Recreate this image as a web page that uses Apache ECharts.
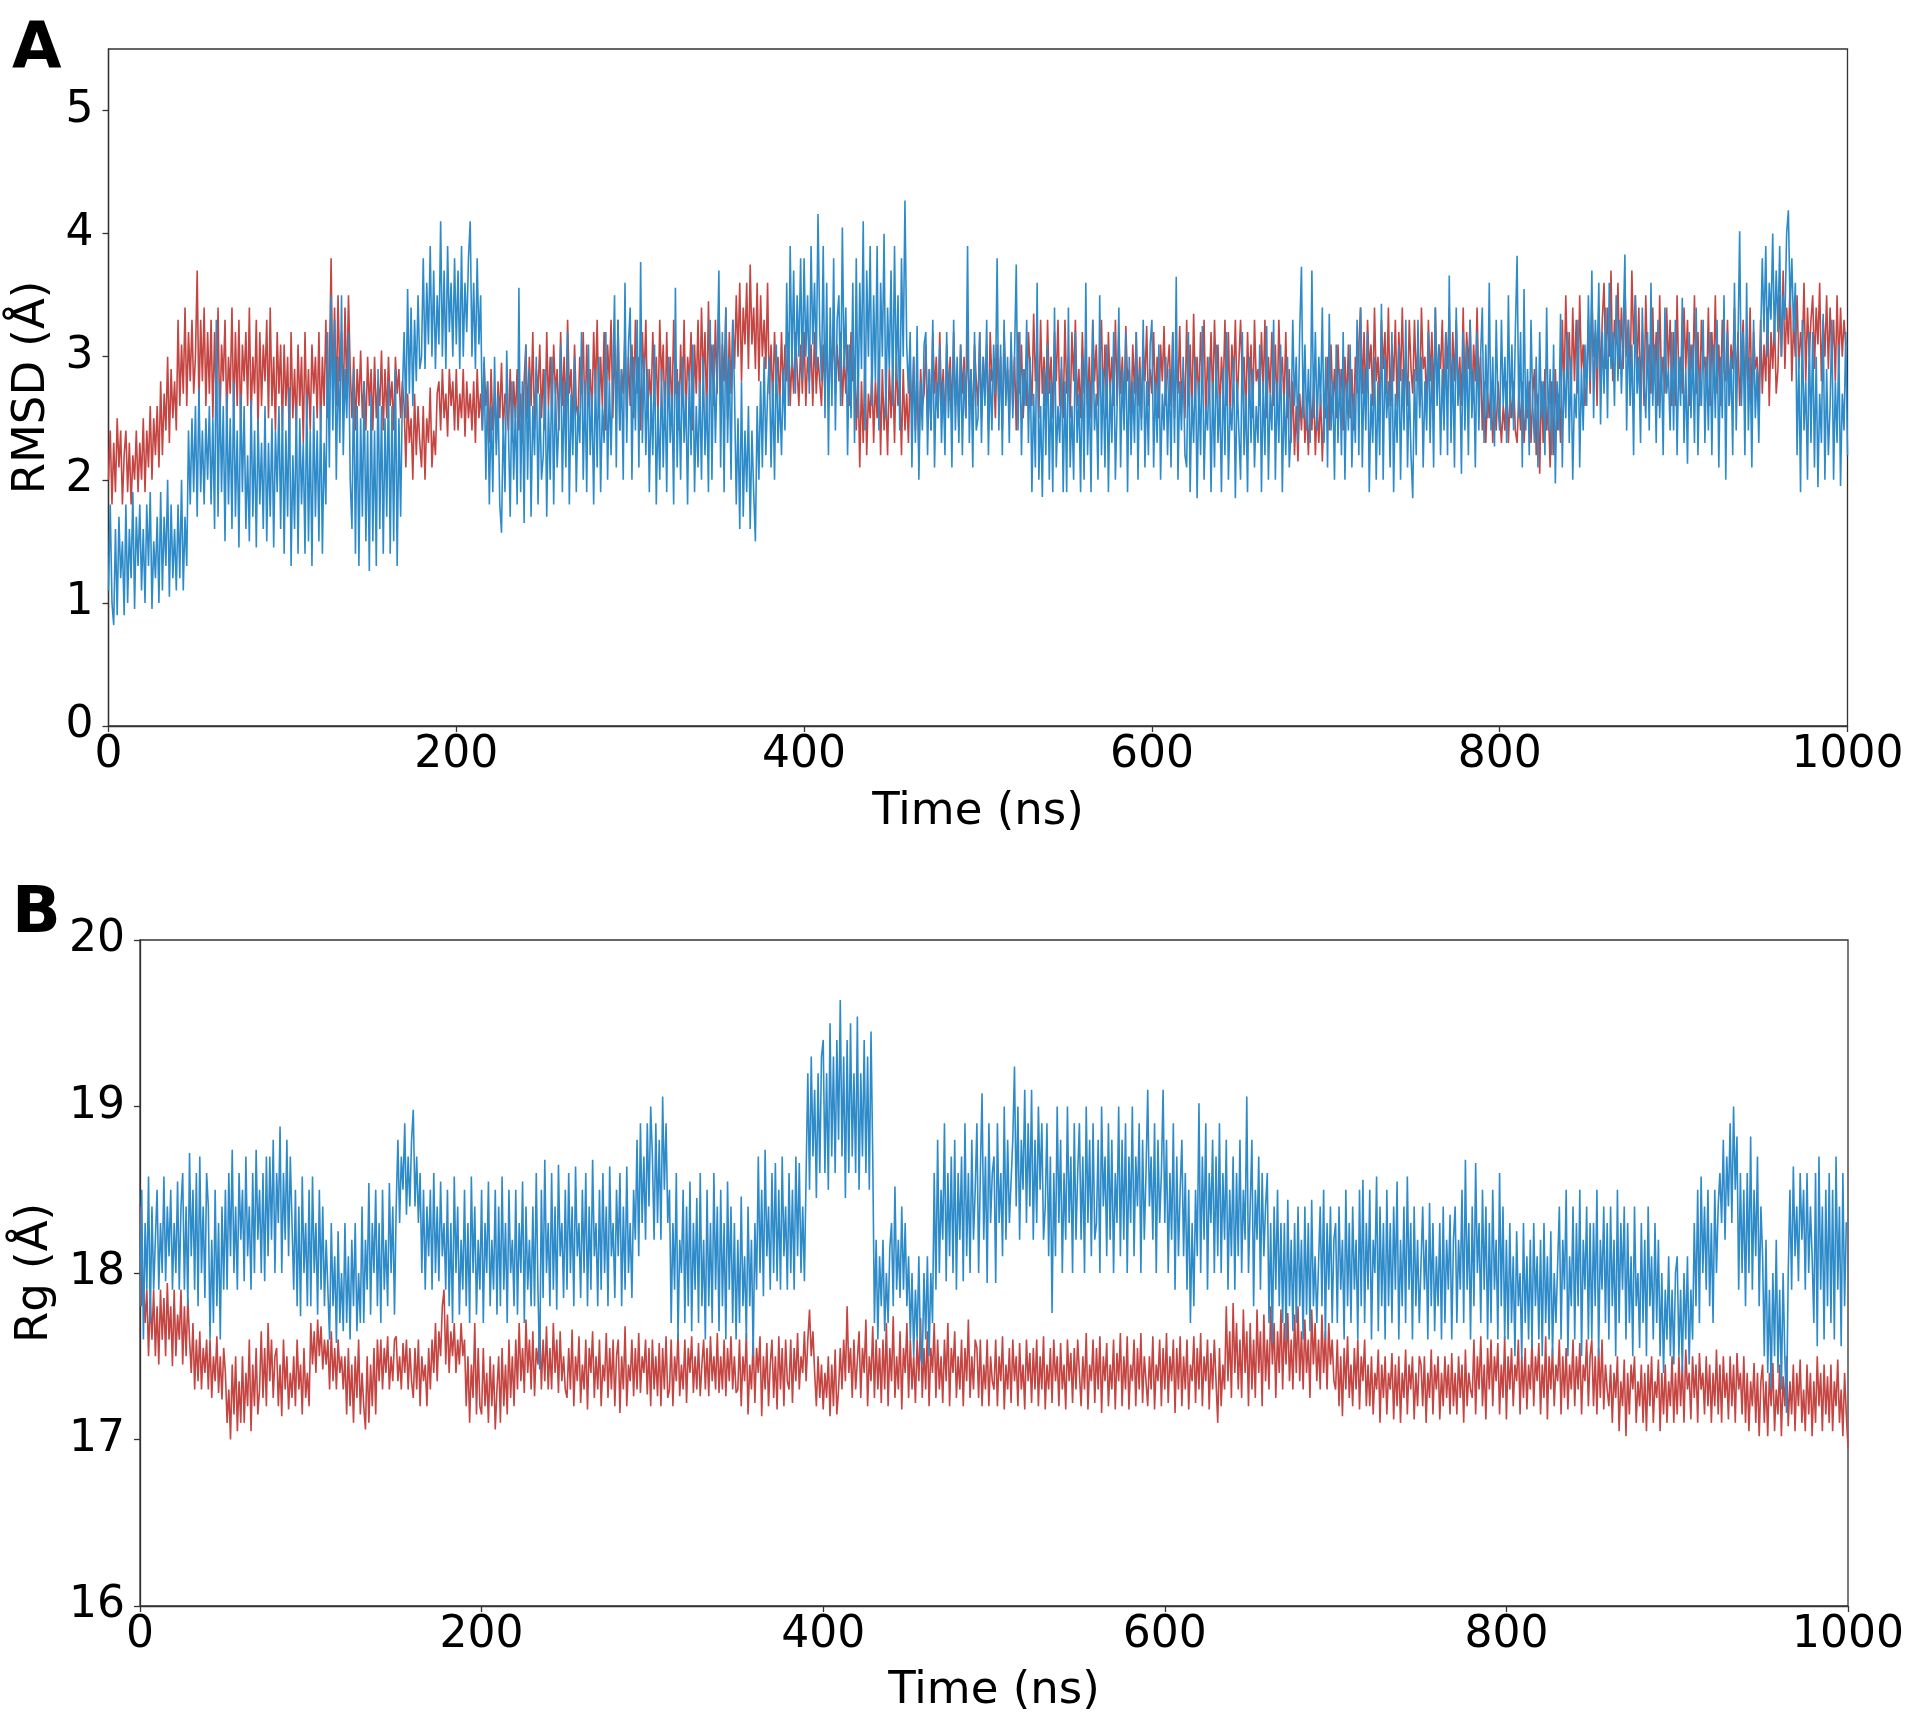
<!DOCTYPE html>
<html><head><meta charset="utf-8">
<script src="https://cdn.jsdelivr.net/npm/echarts@6/dist/echarts.min.js"></script>
<style>html,body{margin:0;padding:0;background:#fff}#chart{width:1920px;height:1717px}</style>
</head><body><div id="chart"></div>
<script>
// sampling interval of the trajectories (ns)
const TIME_STEP = 1;
const xTicks = [0, 200, 400, 600, 800, 1000];
const rmsdTicks = [0, 1, 2, 3, 4, 5];
const rgTicks = [16, 17, 18, 19, 20];

// Panel A: RMSD (Å), red trajectory, one value per ns
const rmsdRed = [
2.0,2.4,1.8,2.3,1.9,2.5,2.1,2.4,1.8,2.2, 2.4,1.9,2.3,1.8,2.2,2.0,2.4,1.9,2.3,2.0, 2.5,1.9,2.4,2.1,2.6,2.0,2.5,2.2,2.6,2.1, 2.8,2.2,2.7,2.4,3.0,2.3,2.9,2.5,2.8,2.4, 3.3,2.6,3.1,2.7,3.4,2.6,3.2,2.8,3.3,2.7,
3.0,3.7,2.6,3.3,2.8,3.4,2.6,3.2,2.7,3.3, 2.5,3.2,2.6,3.4,2.4,3.1,2.8,3.3,2.5,3.0, 2.7,3.4,2.5,3.2,2.6,3.3,2.4,3.1,2.8,3.2, 2.6,3.4,2.5,3.0,2.7,3.3,2.4,3.2,2.6,3.1, 2.8,3.3,2.5,3.4,2.6,3.0,2.4,3.2,2.7,3.1,
2.4,3.1,2.6,3.0,2.3,3.2,2.5,2.9,2.4,3.1, 2.6,3.0,2.3,3.2,2.5,2.9,2.4,3.1,2.7,3.0, 2.5,3.2,2.4,3.0,2.6,3.3,2.5,2.9,3.8,2.7, 3.4,2.6,3.5,2.8,3.2,2.6,3.4,2.7,3.5,2.9, 2.5,3.0,2.4,2.9,2.6,3.05,2.5,2.8,2.4,3.0,
2.6,2.9,2.4,3.0,2.5,2.8,2.6,3.05,2.4,2.9, 2.5,3.0,2.6,2.8,2.4,3.0,2.7,2.9,2.5,2.8, 2.6,2.1,2.7,2.3,2.5,2.0,2.7,2.2,2.6,2.3, 2.1,2.6,2.0,2.5,2.3,2.75,2.1,2.4,2.2,2.7, 2.8,2.4,2.9,2.5,2.7,2.35,2.9,2.6,2.8,2.4,
2.9,2.4,2.7,2.5,2.9,2.35,2.8,2.5,2.7,2.4, 2.8,2.3,2.9,2.5,2.7,2.4,2.95,2.6,2.8,2.3, 2.9,2.4,2.7,2.3,2.8,2.5,2.95,2.4,2.7,2.6, 2.4,2.9,2.3,2.8,2.5,2.9,2.4,2.7,2.3,2.8, 3.1,2.5,3.0,2.6,3.2,2.4,2.9,2.7,3.1,2.5,
2.9,2.4,3.2,2.6,3.0,2.5,3.1,2.7,2.9,2.4, 3.2,2.6,3.0,2.5,3.3,2.7,2.9,2.4,3.1,2.6, 2.5,3.0,2.7,3.2,2.4,3.1,2.6,2.9,2.5,3.2, 2.7,3.3,2.5,3.0,2.6,3.2,2.4,3.1,2.8,3.3, 2.5,3.1,2.6,3.3,2.4,2.9,2.7,3.2,2.5,3.0,
2.6,3.1,2.5,3.3,2.7,3.0,2.4,3.2,2.8,3.3, 2.5,2.9,2.6,3.2,2.7,3.0,2.5,3.3,2.8,3.1, 2.4,3.2,2.6,3.0,2.5,3.3,2.7,2.9,2.4,3.1, 2.6,3.3,2.5,3.0,2.8,3.2,2.4,3.1,2.7,3.3, 2.6,3.4,2.8,3.2,2.5,3.45,2.7,3.1,2.6,3.3,
2.7,3.45,2.6,3.1,2.8,3.4,2.5,3.2,2.7,3.3, 2.9,3.5,3.0,3.6,2.8,3.4,3.1,3.6,2.9,3.75, 3.1,3.4,2.9,3.6,2.8,3.5,3.0,3.3,2.9,3.6, 2.7,3.1,2.6,3.2,2.8,3.0,2.6,3.2,2.7,3.1, 2.8,3.2,2.6,3.0,2.7,3.2,2.9,2.6,3.1,2.7,
3.2,2.6,3.0,2.8,3.1,2.6,3.2,2.7,3.0,2.8, 2.6,3.1,2.7,3.2,2.6,3.0,2.9,3.2,2.7,3.1, 2.8,3.2,2.6,3.0,2.7,3.1,2.6,3.2,2.8,3.0, 2.4,2.9,2.1,2.8,2.3,3.0,2.2,2.7,2.5,2.9, 2.3,2.8,2.5,3.0,2.2,2.9,2.4,2.7,2.2,2.9,
2.5,2.9,2.3,3.0,2.6,2.8,2.2,2.9,2.4,2.7, 2.3,2.9,2.5,3.0,2.4,2.8,2.2,2.9,2.6,2.7, 3.1,2.5,2.9,2.4,3.2,2.7,3.0,2.5,3.2,2.6, 2.9,2.4,3.1,2.7,3.0,2.5,3.2,2.6,2.9,2.4, 3.1,2.7,3.0,2.5,3.2,2.6,2.9,2.4,3.1,2.8,
2.6,3.2,2.5,3.0,2.7,3.1,2.4,3.2,2.8,2.9, 2.5,3.1,2.6,3.0,2.4,3.2,2.7,2.9,2.5,3.1, 2.6,3.0,2.4,3.2,2.7,3.1,2.5,2.9,2.6,3.2, 3.2,2.6,3.35,2.8,3.1,2.5,3.3,2.7,3.0,2.6, 3.3,2.7,3.0,2.5,3.2,2.8,3.3,2.6,2.9,2.5,
3.3,2.7,3.0,2.5,3.2,2.8,3.3,2.6,2.9,2.5, 3.2,2.7,3.1,2.6,3.0,2.5,3.3,2.8,3.1,2.6, 2.9,3.3,2.6,3.1,2.5,3.2,2.7,3.0,2.6,3.3, 2.6,3.2,2.7,3.0,2.5,3.25,2.8,2.9,2.5,3.1, 2.7,3.2,2.6,3.0,2.5,3.1,2.8,3.25,2.6,2.9,
2.7,3.2,2.6,3.0,2.5,3.1,2.8,3.25,2.6,2.9, 3.1,2.6,3.2,2.5,3.0,2.7,3.25,2.6,2.9,2.5, 3.3,2.6,3.1,2.5,3.35,2.7,3.0,2.6,3.2,2.8, 3.3,2.5,3.0,2.7,3.2,2.6,3.3,2.8,3.1,2.5, 3.0,2.7,3.3,2.6,3.2,2.5,3.1,2.8,3.3,2.6,
2.6,3.3,2.8,3.0,2.5,3.2,2.7,3.1,2.5,3.3, 2.8,2.9,2.6,3.2,2.7,3.3,2.5,3.0,2.7,3.2, 2.6,3.1,2.5,3.3,2.8,3.0,2.6,3.2,2.5,2.9, 2.3,2.8,2.2,2.6,2.15,2.7,2.4,2.8,2.3,2.6, 2.2,2.7,2.4,2.8,2.2,2.6,2.3,2.7,2.15,2.6,
2.5,3.0,2.4,3.1,2.6,2.9,2.5,3.1,2.7,2.9, 2.4,3.0,2.6,3.1,2.5,2.9,2.4,3.0,2.7,3.1, 3.4,2.7,3.2,2.6,3.3,2.9,3.1,2.6,3.4,2.8, 3.0,2.6,3.3,2.9,3.2,2.7,3.4,2.6,3.1,2.8, 3.3,2.6,3.2,2.8,3.4,2.7,3.0,2.6,3.3,2.9,
2.7,3.3,2.8,3.1,2.6,3.4,2.9,3.0,2.6,3.3, 2.8,3.2,2.6,3.4,2.7,3.1,2.9,3.3,2.6,3.2, 2.9,3.4,2.6,3.2,2.8,3.3,2.7,3.0,2.6,3.4, 2.7,3.2,2.9,3.3,2.6,3.1,2.8,3.4,2.7,3.0, 2.4,2.8,2.3,2.7,2.5,2.8,2.3,2.6,2.4,2.8,
2.8,2.3,2.6,2.4,2.8,2.3,2.7,2.5,2.8,2.4, 2.3,2.7,2.4,2.8,2.3,2.6,2.5,2.8,2.3,2.7, 2.9,2.2,2.7,2.05,2.8,2.3,2.9,2.4,2.6,2.1, 2.8,2.2,2.9,2.4,2.7,2.3,3.3,2.7,3.5,2.9, 3.2,2.6,3.4,2.8,3.3,2.7,3.5,2.9,3.1,2.6,
2.8,3.3,2.7,3.5,3.0,3.2,2.6,3.4,2.8,3.3, 3.6,2.9,3.4,3.0,3.7,2.8,3.3,3.1,3.6,2.9, 3.4,2.9,3.6,3.0,3.3,2.8,3.7,3.1,3.5,2.9, 3.4,2.7,3.2,2.6,3.5,2.9,3.1,2.7,3.4,2.8, 3.2,2.6,3.5,2.8,3.0,2.7,3.4,2.9,3.3,2.6,
3.2,2.6,3.5,2.8,3.0,2.7,3.4,2.9,3.3,2.6, 3.1,2.8,3.5,2.7,3.2,2.6,3.3,2.9,3.0,2.7, 3.4,2.6,3.2,2.8,3.5,2.7,3.1,2.6,3.3,2.9, 2.8,3.3,2.6,3.1,2.9,3.4,2.7,3.2,2.6,3.0, 3.3,2.7,3.1,2.8,3.4,2.6,3.2,2.9,3.0,2.6,
3.3,2.7,3.1,2.8,3.4,2.6,3.2,2.9,3.3,2.7, 2.9,3.5,3.0,3.7,2.9,3.4,3.1,3.6,2.8,3.3, 3.0,3.5,2.9,3.2,3.0,3.6,2.8,3.4,3.0,3.3, 3.5,2.9,3.4,3.1,3.6,2.8,3.3,3.0,3.5,2.9, 3.4,3.0,3.3,2.8,3.5,2.9,3.4,3.0,3.3,3.1,
3.1];

// Panel A: RMSD (Å), blue trajectory, one value per ns
const rmsdBlue = [
1.1,1.8,1.0,0.82,1.6,0.9,1.7,1.2,1.5,0.9, 1.8,1.0,1.6,1.2,1.9,0.95,1.7,1.3,1.8,1.1, 1.6,1.0,1.8,1.3,1.9,0.95,1.5,1.2,1.7,1.0, 1.9,1.1,1.7,1.3,2.0,1.05,1.8,1.2,1.6,1.1, 1.8,1.2,2.0,1.1,1.7,1.3,2.4,1.8,2.5,1.9,
2.6,1.7,2.75,1.9,2.4,1.8,2.5,2.0,2.6,1.8, 2.5,1.6,3.3,1.7,2.8,1.9,2.6,1.5,2.7,1.8, 2.5,1.6,2.8,1.7,2.4,1.45,2.7,1.9,2.6,1.6, 2.2,1.5,2.65,1.7,2.4,1.45,2.5,1.8,2.3,1.6, 2.6,1.5,2.3,1.7,2.5,1.45,2.4,1.9,2.6,1.6,
2.6,1.4,2.4,1.7,2.75,1.3,2.2,1.6,2.6,1.4, 2.5,1.8,2.3,1.4,2.7,1.5,2.4,1.3,2.6,1.7, 2.4,1.5,2.6,1.4,2.3,1.8,3.2,2.1,3.5,2.4, 3.3,2.0,3.0,2.3,3.5,2.2,2.9,2.5,3.2,2.0, 1.6,2.9,1.4,2.6,1.3,2.5,1.7,2.8,1.5,2.4,
1.26,2.7,1.5,2.4,1.3,2.9,1.6,2.6,1.4,2.5, 1.7,2.8,1.4,2.6,1.5,2.9,1.3,2.5,1.7,2.7, 3.2,2.5,3.55,2.7,3.4,2.6,3.3,2.8,3.5,2.9, 3.0,3.8,2.9,3.6,3.1,3.9,3.0,3.7,2.9,3.5, 3.1,4.1,3.0,3.7,2.9,3.9,3.2,3.6,3.0,3.8,
3.1,3.7,2.9,3.9,3.0,3.6,3.2,3.8,4.1,3.0, 3.6,2.9,3.8,3.1,3.5,2.4,3.0,2.0,2.8,1.8, 2.6,1.9,3.0,2.2,2.7,1.8,1.57,2.5,1.9,3.05, 2.4,1.7,2.8,2.0,2.6,1.8,3.56,1.9,2.8,1.65, 3.1,2.0,2.9,1.7,2.6,2.2,3.0,1.8,2.7,2.0,
2.2,2.9,1.7,2.6,2.0,3.0,1.8,2.8,2.1,2.5, 3.1,1.9,2.8,2.1,3.2,1.8,2.7,2.2,3.0,1.9, 2.6,2.3,3.2,2.0,2.8,1.9,3.1,2.2,2.7,1.8, 2.9,2.1,3.0,1.9,2.6,2.3,3.2,2.0,2.8,2.2, 2.2,3.5,2.1,3.3,2.4,2.9,2.0,3.6,2.3,3.1,
3.4,2.0,3.0,2.4,3.3,2.1,3.77,2.3,3.0,2.2, 2.9,1.9,2.7,2.2,3.1,1.8,2.6,2.0,2.9,2.1, 2.8,1.9,3.0,2.3,2.7,1.8,3.56,2.1,2.8,2.0, 3.0,2.3,2.7,1.8,2.9,2.2,3.1,1.9,2.6,2.1, 2.8,2.0,3.0,2.2,2.7,1.9,3.3,2.0,3.1,2.3,
2.9,3.7,2.1,3.2,1.9,3.4,2.3,3.0,2.0,3.3, 2.7,1.8,2.5,1.6,2.8,1.7,2.4,1.9,2.6,1.6, 2.4,1.9,1.5,2.6,2.0,2.8,2.1,3.0,2.2,2.7, 3.0,2.1,2.8,2.0,3.1,2.3,2.7,2.2,2.9,2.4, 3.6,2.6,3.9,2.9,3.7,2.7,3.5,3.0,3.8,2.8,
3.8,3.0,3.5,2.7,3.9,3.1,3.6,2.9,4.16,3.2, 2.8,3.9,2.5,3.6,2.2,3.4,2.6,3.8,2.4,3.3, 3.5,2.6,4.05,2.9,3.4,2.2,3.1,2.5,3.6,2.3, 3.8,2.5,3.6,2.9,4.1,2.4,3.7,3.0,3.9,2.6, 3.5,2.8,3.9,2.4,3.6,3.0,4.0,2.5,3.4,2.9,
3.7,2.6,3.9,2.8,3.5,2.4,3.8,3.0,4.27,3.1, 2.7,3.2,2.1,3.0,2.3,3.25,2.0,2.8,2.4,3.1, 3.2,2.2,2.9,2.4,3.3,2.1,2.8,2.5,3.1,2.3, 2.8,2.2,3.2,2.5,2.9,2.1,3.3,2.4,3.0,2.3, 3.1,2.2,2.9,2.5,3.9,2.3,2.9,2.1,3.2,2.4,
2.5,3.2,2.3,3.0,2.6,3.3,2.2,2.9,2.4,3.1, 2.7,3.8,2.4,3.1,2.2,3.3,2.6,3.0,2.3,3.2, 2.5,3.0,3.75,2.4,3.2,2.2,2.9,2.6,3.3,2.3, 3.0,1.9,2.7,2.1,3.6,2.0,2.6,1.86,2.9,2.2, 3.1,2.0,2.8,1.9,3.4,2.1,2.6,2.3,3.0,1.9,
2.8,1.9,3.4,2.1,2.6,2.0,3.2,2.3,2.7,1.9, 3.0,2.0,3.6,2.2,2.8,1.9,3.3,2.4,2.7,2.0, 3.5,2.2,2.9,2.1,3.1,1.9,2.8,2.3,3.2,2.0, 2.6,3.4,2.1,2.9,2.4,3.2,1.9,3.0,2.2,2.8, 2.3,3.2,2.0,2.9,2.4,3.3,2.1,2.8,2.2,3.1,
3.3,2.1,2.8,2.3,3.1,2.0,2.7,2.4,3.0,2.2, 2.9,2.1,3.2,2.3,3.65,2.0,2.8,2.4,3.0,2.2, 2.1,3.2,1.9,2.7,2.3,3.0,1.85,2.8,2.2,3.25, 2.0,2.6,2.4,3.0,1.9,2.8,2.1,3.1,2.3,2.7, 1.9,2.9,2.2,3.2,2.0,2.6,2.4,3.0,1.85,2.8,
2.8,2.0,3.2,2.2,2.7,1.9,3.0,2.3,2.9,2.1, 2.6,2.3,3.1,1.9,2.8,2.2,3.25,2.0,2.7,2.4, 3.3,2.0,2.8,2.3,3.1,1.9,2.7,2.2,3.0,2.1, 2.4,3.3,2.6,3.0,2.3,3.2,3.73,2.5,3.1,2.4, 2.9,2.3,3.7,2.5,3.2,2.4,3.0,2.6,3.4,2.3,
3.0,2.1,3.35,2.4,2.8,2.0,3.1,2.3,2.9,2.2, 3.2,2.0,2.8,2.4,3.1,2.1,2.7,2.3,3.3,2.2, 3.4,2.1,2.9,2.4,3.2,1.9,2.7,2.3,3.0,2.0, 2.8,2.2,3.43,2.0,3.0,2.5,2.8,2.1,3.2,1.9, 2.7,2.3,3.1,2.0,2.9,2.4,3.3,2.1,2.8,2.2,
1.85,2.9,2.2,3.3,2.5,3.0,2.1,2.8,2.4,3.2, 2.3,3.0,2.1,3.4,2.6,3.1,2.2,2.9,2.4,3.2, 2.2,3.66,2.3,3.0,2.1,3.4,2.6,2.9,2.05,3.2, 2.4,3.1,2.2,3.3,2.5,2.9,2.1,3.2,2.4,3.0, 3.4,2.3,3.1,2.5,3.6,2.4,3.0,2.27,3.3,2.6,
2.4,3.3,2.6,3.0,2.3,3.5,2.5,3.1,2.4,3.2, 3.82,2.5,3.2,2.1,3.55,2.4,2.9,2.2,3.3,2.6, 2.3,3.0,2.1,3.2,2.5,2.8,2.2,3.4,2.4,2.9, 2.2,3.1,1.97,2.8,2.4,3.35,2.1,2.9,2.5,3.2, 2.3,3.0,2.0,2.7,2.5,3.3,2.1,2.9,2.4,3.1,
2.6,3.5,2.8,3.7,2.5,3.3,2.9,3.6,2.45,3.2, 2.7,3.4,2.5,3.6,2.9,3.2,2.6,3.5,2.8,3.3, 2.7,3.2,3.83,2.4,3.3,2.6,3.1,2.2,3.5,2.7, 3.0,2.3,3.4,2.8,2.5,3.2,2.4,3.6,2.6,3.1, 2.3,3.3,2.5,3.0,2.2,3.4,2.7,2.9,2.4,3.2,
2.4,3.3,2.2,3.0,2.6,3.48,2.3,2.9,2.13,3.2, 2.5,3.1,2.3,3.4,2.2,2.9,2.6,3.3,2.3,3.0, 2.4,3.2,2.2,3.1,2.5,3.3,2.1,3.0,2.5,3.5, 2.0,3.2,2.6,3.0,2.2,3.6,2.4,3.1,4.02,2.6, 3.2,2.2,3.6,2.4,3.0,2.1,3.3,2.5,2.9,2.3,
3.1,3.8,3.2,3.9,3.0,3.6,3.3,4.0,3.1,3.7, 3.2,3.9,3.0,3.5,3.3,4.0,4.19,3.4,3.8,3.2, 3.6,2.2,3.0,1.9,3.3,2.4,2.8,2.0,3.2,2.3, 3.2,2.1,3.0,1.94,2.7,2.3,3.35,2.0,2.9,2.2, 2.6,3.3,2.0,2.8,2.3,3.1,1.95,2.7,2.4,3.2,
2.2];

// Panel B: Rg (Å), red trajectory, one value per ns
const rgRed = [
18.4,17.8,17.95,17.7,17.9,17.5,17.85,17.6,17.9,17.5, 17.8,17.45,17.9,17.6,17.85,17.5,17.94,17.6,17.8,17.44, 17.9,17.5,17.75,17.6,17.9,17.45,17.8,17.5,17.85,17.6, 17.4,17.7,17.3,17.6,17.35,17.65,17.3,17.55,17.4,17.6, 17.3,17.6,17.25,17.5,17.35,17.62,17.28,17.5,17.24,17.55,
17.4,17.1,17.3,17.0,17.45,17.15,17.5,17.05,17.35,17.1, 17.5,17.1,17.4,17.2,17.6,17.05,17.45,17.2,17.55,17.15, 17.3,17.65,17.25,17.55,17.2,17.7,17.35,17.6,17.25,17.5, 17.55,17.2,17.45,17.14,17.6,17.3,17.5,17.18,17.4,17.25, 17.5,17.2,17.6,17.3,17.45,17.15,17.55,17.25,17.4,17.2,
17.7,17.45,17.65,17.4,17.72,17.5,17.68,17.42,17.6,17.45, 17.6,17.3,17.65,17.35,17.55,17.3,17.6,17.4,17.5,17.3, 17.5,17.15,17.55,17.2,17.45,17.1,17.5,17.25,17.6,17.15, 17.4,17.2,17.06,17.5,17.1,17.45,17.2,17.55,17.15,17.6, 17.35,17.6,17.3,17.55,17.4,17.62,17.3,17.5,17.35,17.6,
17.62,17.35,17.5,17.3,17.58,17.4,17.6,17.3,17.55,17.35, 17.25,17.55,17.3,17.6,17.2,17.5,17.35,17.45,17.2,17.55, 17.3,17.6,17.4,17.7,17.35,17.65,17.5,17.8,17.9,17.45, 17.75,17.4,17.65,17.5,17.7,17.4,17.6,17.45,17.7,17.5, 17.6,17.2,17.5,17.1,17.45,17.25,17.7,17.15,17.55,17.2,
17.15,17.55,17.2,17.4,17.1,17.5,17.2,17.45,17.06,17.3, 17.5,17.1,17.55,17.2,17.45,17.15,17.6,17.25,17.5,17.2, 17.6,17.3,17.7,17.35,17.55,17.28,17.72,17.4,17.6,17.3, 17.65,17.26,17.55,17.45,17.7,17.3,17.6,17.35,17.68,17.3, 17.55,17.3,17.7,17.4,17.6,17.28,17.65,17.35,17.5,17.3,
17.25,17.55,17.3,17.66,17.2,17.5,17.35,17.62,17.22,17.45, 17.3,17.6,17.18,17.55,17.4,17.65,17.25,17.5,17.3,17.6, 17.2,17.45,17.35,17.64,17.25,17.55,17.3,17.6,17.2,17.5, 17.6,17.16,17.5,17.3,17.68,17.2,17.45,17.35,17.6,17.26, 17.55,17.3,17.64,17.28,17.5,17.4,17.6,17.27,17.55,17.2,
17.6,17.3,17.5,17.26,17.58,17.2,17.55,17.3,17.62,17.25, 17.3,17.6,17.2,17.5,17.35,17.64,17.26,17.45,17.3,17.6, 17.22,17.55,17.4,17.62,17.28,17.5,17.3,17.58,17.26,17.45, 17.6,17.3,17.55,17.26,17.62,17.35,17.5,17.3,17.64,17.28, 17.5,17.3,17.6,17.26,17.55,17.35,17.62,17.3,17.5,17.28,
17.3,17.6,17.2,17.5,17.35,17.64,17.15,17.45,17.3,17.6, 17.22,17.55,17.4,17.62,17.14,17.5,17.3,17.58,17.2,17.45, 17.6,17.25,17.5,17.18,17.62,17.3,17.55,17.2,17.6,17.35, 17.3,17.6,17.22,17.55,17.35,17.64,17.3,17.5,17.4,17.65, 17.35,17.6,17.78,17.5,17.65,17.4,17.2,17.5,17.25,17.45,
17.18,17.4,17.25,17.5,17.14,17.45,17.2,17.54,17.15,17.3, 17.55,17.3,17.6,17.35,17.8,17.4,17.55,17.25,17.6,17.3, 17.3,17.65,17.25,17.55,17.4,17.72,17.2,17.5,17.35,17.68, 17.25,17.6,17.3,17.55,17.22,17.6,17.3,17.7,17.2,17.55, 17.35,17.74,17.25,17.5,17.3,17.65,17.18,17.55,17.4,17.7,
17.25,17.6,17.3,17.5,17.22,17.6,17.35,17.73,17.25,17.55, 17.3,17.65,17.2,17.55,17.4,17.7,17.25,17.6,17.3,17.5, 17.22,17.6,17.35,17.7,17.2,17.55,17.4,17.65,17.25,17.5, 17.3,17.6,17.2,17.55,17.35,17.72,17.25,17.5,17.3,17.6, 17.55,17.25,17.6,17.2,17.45,17.3,17.6,17.2,17.5,17.35,
17.3,17.6,17.2,17.5,17.35,17.62,17.18,17.45,17.3,17.55, 17.22,17.6,17.35,17.5,17.2,17.58,17.3,17.45,17.18,17.6, 17.35,17.52,17.22,17.55,17.3,17.6,17.2,17.5,17.3,17.62, 17.18,17.45,17.3,17.55,17.22,17.6,17.35,17.5,17.2,17.58, 17.3,17.45,17.18,17.6,17.35,17.52,17.22,17.55,17.3,17.6,
17.6,17.2,17.5,17.3,17.64,17.18,17.45,17.35,17.6,17.22, 17.55,17.3,17.62,17.16,17.5,17.35,17.58,17.2,17.45,17.3, 17.6,17.18,17.52,17.35,17.64,17.2,17.5,17.3,17.62,17.18, 17.45,17.35,17.6,17.2,17.55,17.3,17.64,17.22,17.5,17.35, 17.2,17.5,17.3,17.62,17.18,17.45,17.35,17.6,17.2,17.55,
17.3,17.64,17.22,17.5,17.35,17.6,17.16,17.55,17.3,17.62, 17.2,17.5,17.3,17.6,17.18,17.45,17.35,17.62,17.22,17.55, 17.3,17.64,17.2,17.5,17.35,17.6,17.18,17.52,17.3,17.6, 17.6,17.1,17.55,17.2,17.45,17.3,17.8,17.35,17.65,17.25, 17.82,17.4,17.7,17.3,17.6,17.25,17.78,17.4,17.65,17.2,
17.7,17.3,17.6,17.25,17.78,17.4,17.65,17.2,17.75,17.35, 17.6,17.3,17.8,17.45,17.7,17.25,17.65,17.4,17.78,17.3, 17.7,17.45,17.76,17.35,17.6,17.3,17.75,17.4,17.8,17.35, 17.65,17.3,17.72,17.4,17.6,17.25,17.78,17.45,17.7,17.35, 17.6,17.3,17.75,17.4,17.65,17.3,17.7,17.45,17.6,17.35,
17.3,17.6,17.2,17.5,17.14,17.55,17.3,17.62,17.25,17.45, 17.2,17.55,17.3,17.6,17.18,17.5,17.35,17.6,17.2,17.45, 17.2,17.5,17.15,17.4,17.3,17.54,17.1,17.45,17.25,17.5, 17.15,17.4,17.3,17.52,17.12,17.45,17.2,17.5,17.1,17.4, 17.25,17.54,17.15,17.45,17.3,17.5,17.12,17.4,17.2,17.5,
17.45,17.2,17.5,17.1,17.4,17.25,17.54,17.15,17.45,17.3, 17.5,17.12,17.4,17.2,17.5,17.25,17.45,17.15,17.52,17.2, 17.4,17.15,17.5,17.25,17.45,17.1,17.54,17.2,17.4,17.3, 17.25,17.6,17.15,17.5,17.3,17.62,17.2,17.45,17.12,17.55, 17.3,17.6,17.2,17.5,17.35,17.58,17.15,17.45,17.25,17.62,
17.12,17.5,17.3,17.55,17.2,17.45,17.35,17.6,17.15,17.5, 17.25,17.55,17.18,17.45,17.3,17.6,17.2,17.5,17.35,17.58, 17.15,17.45,17.25,17.62,17.12,17.5,17.3,17.55,17.2,17.45, 17.35,17.6,17.15,17.5,17.25,17.55,17.18,17.45,17.3,17.6, 17.2,17.5,17.3,17.58,17.15,17.45,17.35,17.6,17.2,17.5,
17.6,17.2,17.5,17.15,17.55,17.25,17.6,17.18,17.45,17.3, 17.2,17.45,17.1,17.4,17.25,17.5,17.05,17.35,17.2,17.48, 17.02,17.4,17.15,17.45,17.3,17.5,17.1,17.35,17.2,17.45, 17.1,17.4,17.05,17.45,17.2,17.5,17.1,17.35,17.25,17.48, 17.05,17.4,17.15,17.45,17.1,17.35,17.2,17.5,17.1,17.4,
17.15,17.5,17.2,17.45,17.1,17.54,17.3,17.4,17.12,17.5, 17.25,17.45,17.1,17.52,17.3,17.4,17.15,17.5,17.2,17.45, 17.1,17.4,17.2,17.54,17.15,17.45,17.1,17.5,17.25,17.4, 17.12,17.5,17.2,17.45,17.1,17.52,17.3,17.4,17.15,17.5, 17.1,17.4,17.05,17.35,17.2,17.46,17.1,17.4,17.02,17.35,
17.45,17.1,17.35,17.02,17.4,17.2,17.46,17.05,17.3,17.15, 17.45,17.02,17.38,17.2,17.5,17.08,17.35,17.15,17.45,17.05, 17.4,17.2,17.48,17.1,17.3,17.05,17.45,17.15,17.4,17.02, 17.35,17.1,17.5,17.2,17.4,17.05,17.45,17.15,17.38,17.1, 17.45,17.05,17.35,17.2,17.48,17.1,17.3,17.02,17.4,17.15,
16.95];

// Panel B: Rg (Å), blue trajectory, one value per ns
const rgBlue = [
17.8,18.5,17.6,18.3,17.9,18.58,17.7,18.4,17.9,18.2, 18.5,17.9,18.3,18.0,18.58,17.95,18.4,18.1,18.5,17.9, 18.3,18.0,18.55,17.9,18.4,18.6,17.9,18.4,17.8,18.72, 18.1,18.5,17.9,18.6,17.8,18.7,18.0,18.4,17.85,18.6, 18.4,17.6,18.2,17.7,18.5,17.8,18.3,17.6,18.4,17.9,
18.5,17.9,18.6,18.1,18.74,18.0,18.4,17.9,18.6,18.2, 18.5,17.95,18.7,18.1,18.4,17.9,18.6,18.0,18.74,18.2, 18.5,18.0,18.6,17.95,18.7,18.1,18.7,18.2,18.8,18.0, 18.6,18.3,18.88,18.0,18.6,18.2,18.8,18.1,18.7,18.3, 17.9,18.5,17.8,18.4,17.74,18.58,18.0,18.3,17.8,18.5,
17.8,18.58,18.0,18.3,17.75,18.5,17.9,18.4,17.8,18.2, 18.2,17.6,18.3,17.8,18.1,17.58,18.25,17.7,18.0,17.65, 18.3,17.7,18.1,17.6,18.2,17.8,18.3,17.65,18.0,17.7, 18.4,17.7,18.2,17.9,18.54,17.75,18.3,18.0,18.5,17.8, 18.3,17.7,18.5,17.9,18.2,17.8,18.54,18.0,18.4,17.75,
18.4,18.8,18.3,18.7,18.5,18.9,18.35,18.7,18.4,18.8, 18.98,18.4,18.7,18.3,18.6,18.0,18.5,17.9,18.4,18.1, 18.5,17.9,18.6,18.0,18.4,17.95,18.55,18.1,18.3,17.9, 18.5,17.8,18.3,17.7,18.58,18.0,18.4,17.75,18.2,17.9, 18.5,17.8,18.3,17.7,18.58,18.0,18.4,17.75,18.2,17.9,
18.5,17.7,18.3,18.0,18.55,17.8,18.2,17.9,18.5,17.75, 18.4,17.8,18.58,17.9,18.3,17.7,18.5,18.0,18.2,17.8, 18.5,17.75,18.3,18.0,18.55,17.7,18.4,17.9,18.2,17.8, 18.4,17.8,18.6,17.9,17.42,18.5,17.85,18.68,18.0,18.3, 17.8,18.6,17.9,18.4,17.78,18.65,18.1,18.3,17.85,18.5,
17.9,18.6,18.0,18.4,17.8,18.64,18.1,18.3,17.85,18.5, 18.0,18.6,17.8,18.4,17.9,18.68,18.1,18.3,17.8,18.5, 17.9,18.6,18.0,18.4,17.8,18.64,18.1,18.3,17.85,18.5, 18.1,18.6,17.8,18.4,17.9,18.64,18.0,18.3,17.85,18.5, 18.2,18.8,18.1,18.9,18.3,18.7,18.2,18.9,18.4,19.0,
18.7,18.2,18.9,18.3,18.8,18.2,19.06,18.5,18.9,18.3, 18.5,17.7,18.3,17.9,18.6,17.6,18.2,18.0,18.5,17.7, 18.4,17.8,18.55,17.65,18.3,17.9,18.45,17.7,18.6,17.8, 18.2,17.6,18.5,17.8,18.3,17.7,18.6,17.9,18.4,17.65, 18.5,17.8,18.3,17.6,18.55,17.9,18.4,17.7,18.3,17.6,
18.2,17.7,18.46,17.8,18.1,17.6,18.4,17.8,18.2,17.5, 18.3,17.9,18.7,18.0,18.5,17.86,18.74,18.1,18.4,17.9, 18.6,18.0,18.66,17.95,18.5,17.9,18.7,18.1,18.4,17.9, 18.6,18.0,18.5,17.9,18.7,18.1,18.66,18.0,18.4,17.95, 18.6,19.2,18.5,19.3,18.7,19.1,18.45,19.2,18.6,19.3,
19.4,18.6,19.2,18.5,19.5,18.7,19.3,18.6,19.4,18.8, 19.64,18.7,19.3,18.45,19.4,18.6,19.5,18.7,19.2,18.6, 19.54,18.5,19.2,18.7,19.4,18.6,19.3,18.5,19.45,18.7, 17.7,18.2,17.6,18.1,17.8,18.2,17.65,18.0,17.7,18.15, 18.3,17.8,18.52,17.9,18.2,17.85,18.4,17.9,18.3,17.8,
18.1,17.6,18.0,17.5,17.9,17.6,18.1,17.5,17.45,18.0, 17.6,18.1,17.5,18.0,17.7,18.6,17.9,18.8,18.0,18.5, 18.2,18.9,17.95,18.6,18.1,18.7,18.0,18.8,17.9,18.6, 18.2,18.7,17.95,18.9,18.1,18.6,18.0,18.8,18.2,18.5, 18.9,18.0,18.6,19.08,18.2,18.7,17.94,18.9,18.3,18.6,
18.7,17.94,18.9,18.3,18.6,18.1,19.0,18.2,18.8,18.3, 18.3,18.8,19.24,18.4,19.0,18.2,18.8,18.5,19.1,18.3, 18.9,18.4,19.1,18.2,18.8,18.3,19.0,18.5,18.9,18.2, 18.4,18.9,18.1,18.7,17.76,18.6,18.1,19.0,18.3,18.8, 18.0,18.6,18.2,19.0,18.3,18.7,18.0,18.9,18.2,18.6,
18.9,18.2,18.7,18.0,19.0,18.3,18.8,18.1,18.9,18.2, 18.3,18.8,18.0,19.0,18.4,18.7,18.1,18.9,18.2,18.8, 18.0,18.6,18.3,19.0,18.1,18.8,18.2,18.9,18.0,18.7, 18.3,19.0,18.1,18.7,18.4,18.9,18.0,18.8,18.2,18.6, 19.1,18.4,18.7,18.2,18.9,18.0,18.8,18.3,18.6,19.1,
18.3,18.8,18.0,18.6,18.2,18.9,17.9,18.7,18.1,18.5, 18.8,18.1,18.6,17.9,18.5,17.7,18.3,17.8,18.5,18.1, 19.02,18.0,18.7,18.2,18.9,17.9,18.6,18.3,18.8,18.0, 18.7,18.1,18.9,18.0,18.6,18.2,18.8,17.9,18.5,18.1, 18.7,17.9,18.6,18.1,18.8,18.0,18.5,18.2,19.06,18.0,
18.0,18.8,17.8,18.5,18.2,18.7,17.9,18.6,18.1,18.4, 18.6,17.7,18.3,17.58,18.4,17.9,18.5,17.8,18.3,17.7, 18.3,17.6,18.44,17.8,18.2,17.65,18.3,17.7,18.4,17.8, 18.2,17.6,18.4,17.75,18.3,17.65,18.44,17.8,18.1,17.7, 17.7,18.4,17.8,18.5,17.6,18.3,17.9,18.4,17.7,18.2,
18.3,17.7,18.4,17.9,18.2,17.6,18.5,17.8,18.3,17.7, 18.4,17.9,18.2,17.6,18.5,17.8,18.56,17.7,18.3,17.9, 18.5,17.6,18.2,18.0,18.58,17.65,18.4,17.8,18.3,17.6, 18.5,17.8,18.3,17.7,18.4,17.9,18.55,17.6,18.2,17.8, 18.4,17.7,18.58,17.9,18.3,17.6,18.4,17.8,18.2,17.7,
17.7,18.4,17.9,18.2,17.6,18.42,17.8,18.3,17.65,18.1, 17.8,18.3,17.6,18.4,17.7,18.2,17.9,18.35,17.6,18.2, 18.4,17.7,18.2,17.9,18.5,17.7,18.68,17.9,18.3,17.6, 18.4,17.8,18.66,18.0,18.3,17.7,18.5,17.9,18.4,17.6, 18.3,17.7,18.5,17.9,18.2,17.6,18.6,17.8,18.4,17.6,
18.2,17.6,18.3,17.7,18.1,17.5,18.25,17.8,18.0,17.48, 18.3,17.7,18.1,17.6,18.2,17.55,18.3,17.8,18.1,17.6, 18.2,17.5,18.3,17.7,18.1,17.6,18.25,17.5,18.0,17.7, 17.7,18.4,17.6,18.2,17.9,18.5,17.5,18.1,17.8,18.4, 17.6,18.3,17.8,18.5,17.5,18.2,17.9,18.4,17.6,18.3,
17.6,18.3,17.8,18.5,17.5,18.2,17.9,18.4,17.7,18.3, 17.6,18.4,17.8,18.2,17.5,18.5,17.7,18.3,17.9,18.4, 17.6,18.3,17.7,18.1,17.5,18.4,17.8,18.0,17.55,18.3, 17.7,18.2,17.5,18.4,17.8,18.1,17.6,18.3,17.7,18.2, 17.5,18.0,17.4,17.9,17.6,18.1,17.5,17.9,17.45,18.0,
18.1,17.5,17.9,17.4,18.0,17.6,18.1,17.45,17.9,17.6, 18.3,17.8,18.5,17.7,18.58,18.0,18.4,17.9,18.5,17.8, 18.3,17.7,18.5,18.0,18.4,18.6,18.3,18.8,18.2,18.7, 18.4,18.9,18.3,19.0,18.5,18.82,17.9,18.6,18.0,18.5, 17.8,18.6,18.0,18.82,17.9,18.5,18.1,18.7,17.8,18.4,
18.1,17.5,18.2,17.4,17.9,17.3,18.0,17.5,18.2,17.4, 17.9,17.3,18.0,17.5,17.16,18.0,18.5,17.9,18.64,18.1, 18.4,17.95,18.6,18.2,18.5,17.9,18.6,18.0,18.4,18.1, 17.7,18.6,17.56,18.7,17.9,18.4,17.6,18.5,17.8,18.6, 17.7,18.5,17.6,18.7,17.9,18.4,17.56,18.6,17.8,18.3,
18.3];

const RED = '#c44541';
const BLUE = '#2e8bc9';
const FONT = 'DejaVu Sans';
const AXIS_COLOR = '#333333';

function toPairs(values) { return values.map((v, i) => [i * TIME_STEP, v]); }

function makeX(gridIndex, labelMargin, nameGap) {
  return {
    type: 'value', gridIndex: gridIndex, min: 0, max: 1000, interval: 200,
    name: 'Time (ns)', nameLocation: 'middle', nameGap: nameGap,
    nameTextStyle: { fontFamily: FONT, fontSize: 45, color: '#000' },
    axisLine: { show: true, onZero: false, lineStyle: { color: AXIS_COLOR, width: 1.3 } },
    axisTick: { show: true, inside: false, length: 6, customValues: xTicks, lineStyle: { color: AXIS_COLOR, width: 1.3 } },
    axisLabel: { show: true, fontFamily: FONT, fontSize: 44, color: '#000', margin: labelMargin, customValues: xTicks,
      showMinLabel: true, showMaxLabel: true, formatter: v => String(v) },
    splitLine: { show: false }
  };
}
function makeY(gridIndex, min, max, ticks, name, nameGap) {
  return {
    type: 'value', gridIndex: gridIndex, min: min, max: max, interval: 1,
    name: name, nameLocation: 'middle', nameGap: nameGap, nameRotate: 90,
    nameTextStyle: { fontFamily: FONT, fontSize: 45, color: '#000' },
    axisLine: { show: true, onZero: false, lineStyle: { color: AXIS_COLOR, width: 1.3 } },
    axisTick: { show: true, inside: false, length: 6, customValues: ticks, lineStyle: { color: AXIS_COLOR, width: 1.3 } },
    axisLabel: { show: true, fontFamily: FONT, fontSize: 44, color: '#000', margin: 15, customValues: ticks,
      formatter: v => (Number.isInteger(v) ? String(v) : '') },
    splitLine: { show: false }
  };
}
function makeLine(xi, data, color) {
  return {
    type: 'line', xAxisIndex: xi, yAxisIndex: xi, data: toPairs(data),
    showSymbol: false, symbol: 'none', smooth: false, silent: true,
    lineStyle: { color: color, width: 1.6, join: 'miter', miterLimit: 3 }, itemStyle: { color: color }
  };
}

const chart = echarts.init(document.getElementById('chart'), null, { renderer: 'canvas' });
chart.setOption({
  backgroundColor: '#ffffff',
  animation: false,
  grid: [
    { left: 108.5, top: 49, width: 1739, height: 677, show: true, borderColor: AXIS_COLOR, borderWidth: 1.3, backgroundColor: 'transparent', containLabel: false, outerBoundsMode: 'none' },
    { left: 140, top: 940, width: 1708, height: 666, show: true, borderColor: AXIS_COLOR, borderWidth: 1.3, backgroundColor: 'transparent', containLabel: false, outerBoundsMode: 'none' }
  ],
  xAxis: [makeX(0, 8, 64), makeX(1, 8, 63)],
  yAxis: [makeY(0, 0, 5.5, rmsdTicks, 'RMSD (Å)', 41), makeY(1, 16, 20, rgTicks, 'Rg (Å)', 71)],
  series: [
    makeLine(0, rmsdRed, RED),
    makeLine(0, rmsdBlue, BLUE),
    makeLine(1, rgRed, RED),
    makeLine(1, rgBlue, BLUE)
  ],
  graphic: [
    { type: 'text', left: 12, top: 19, style: { text: 'A', fontFamily: FONT, fontWeight: 'bold', fontSize: 64, fill: '#000' } },
    { type: 'text', left: 12, top: 883, style: { text: 'B', fontFamily: FONT, fontWeight: 'bold', fontSize: 64, fill: '#000' } }
  ]
});
</script>
</body></html>
